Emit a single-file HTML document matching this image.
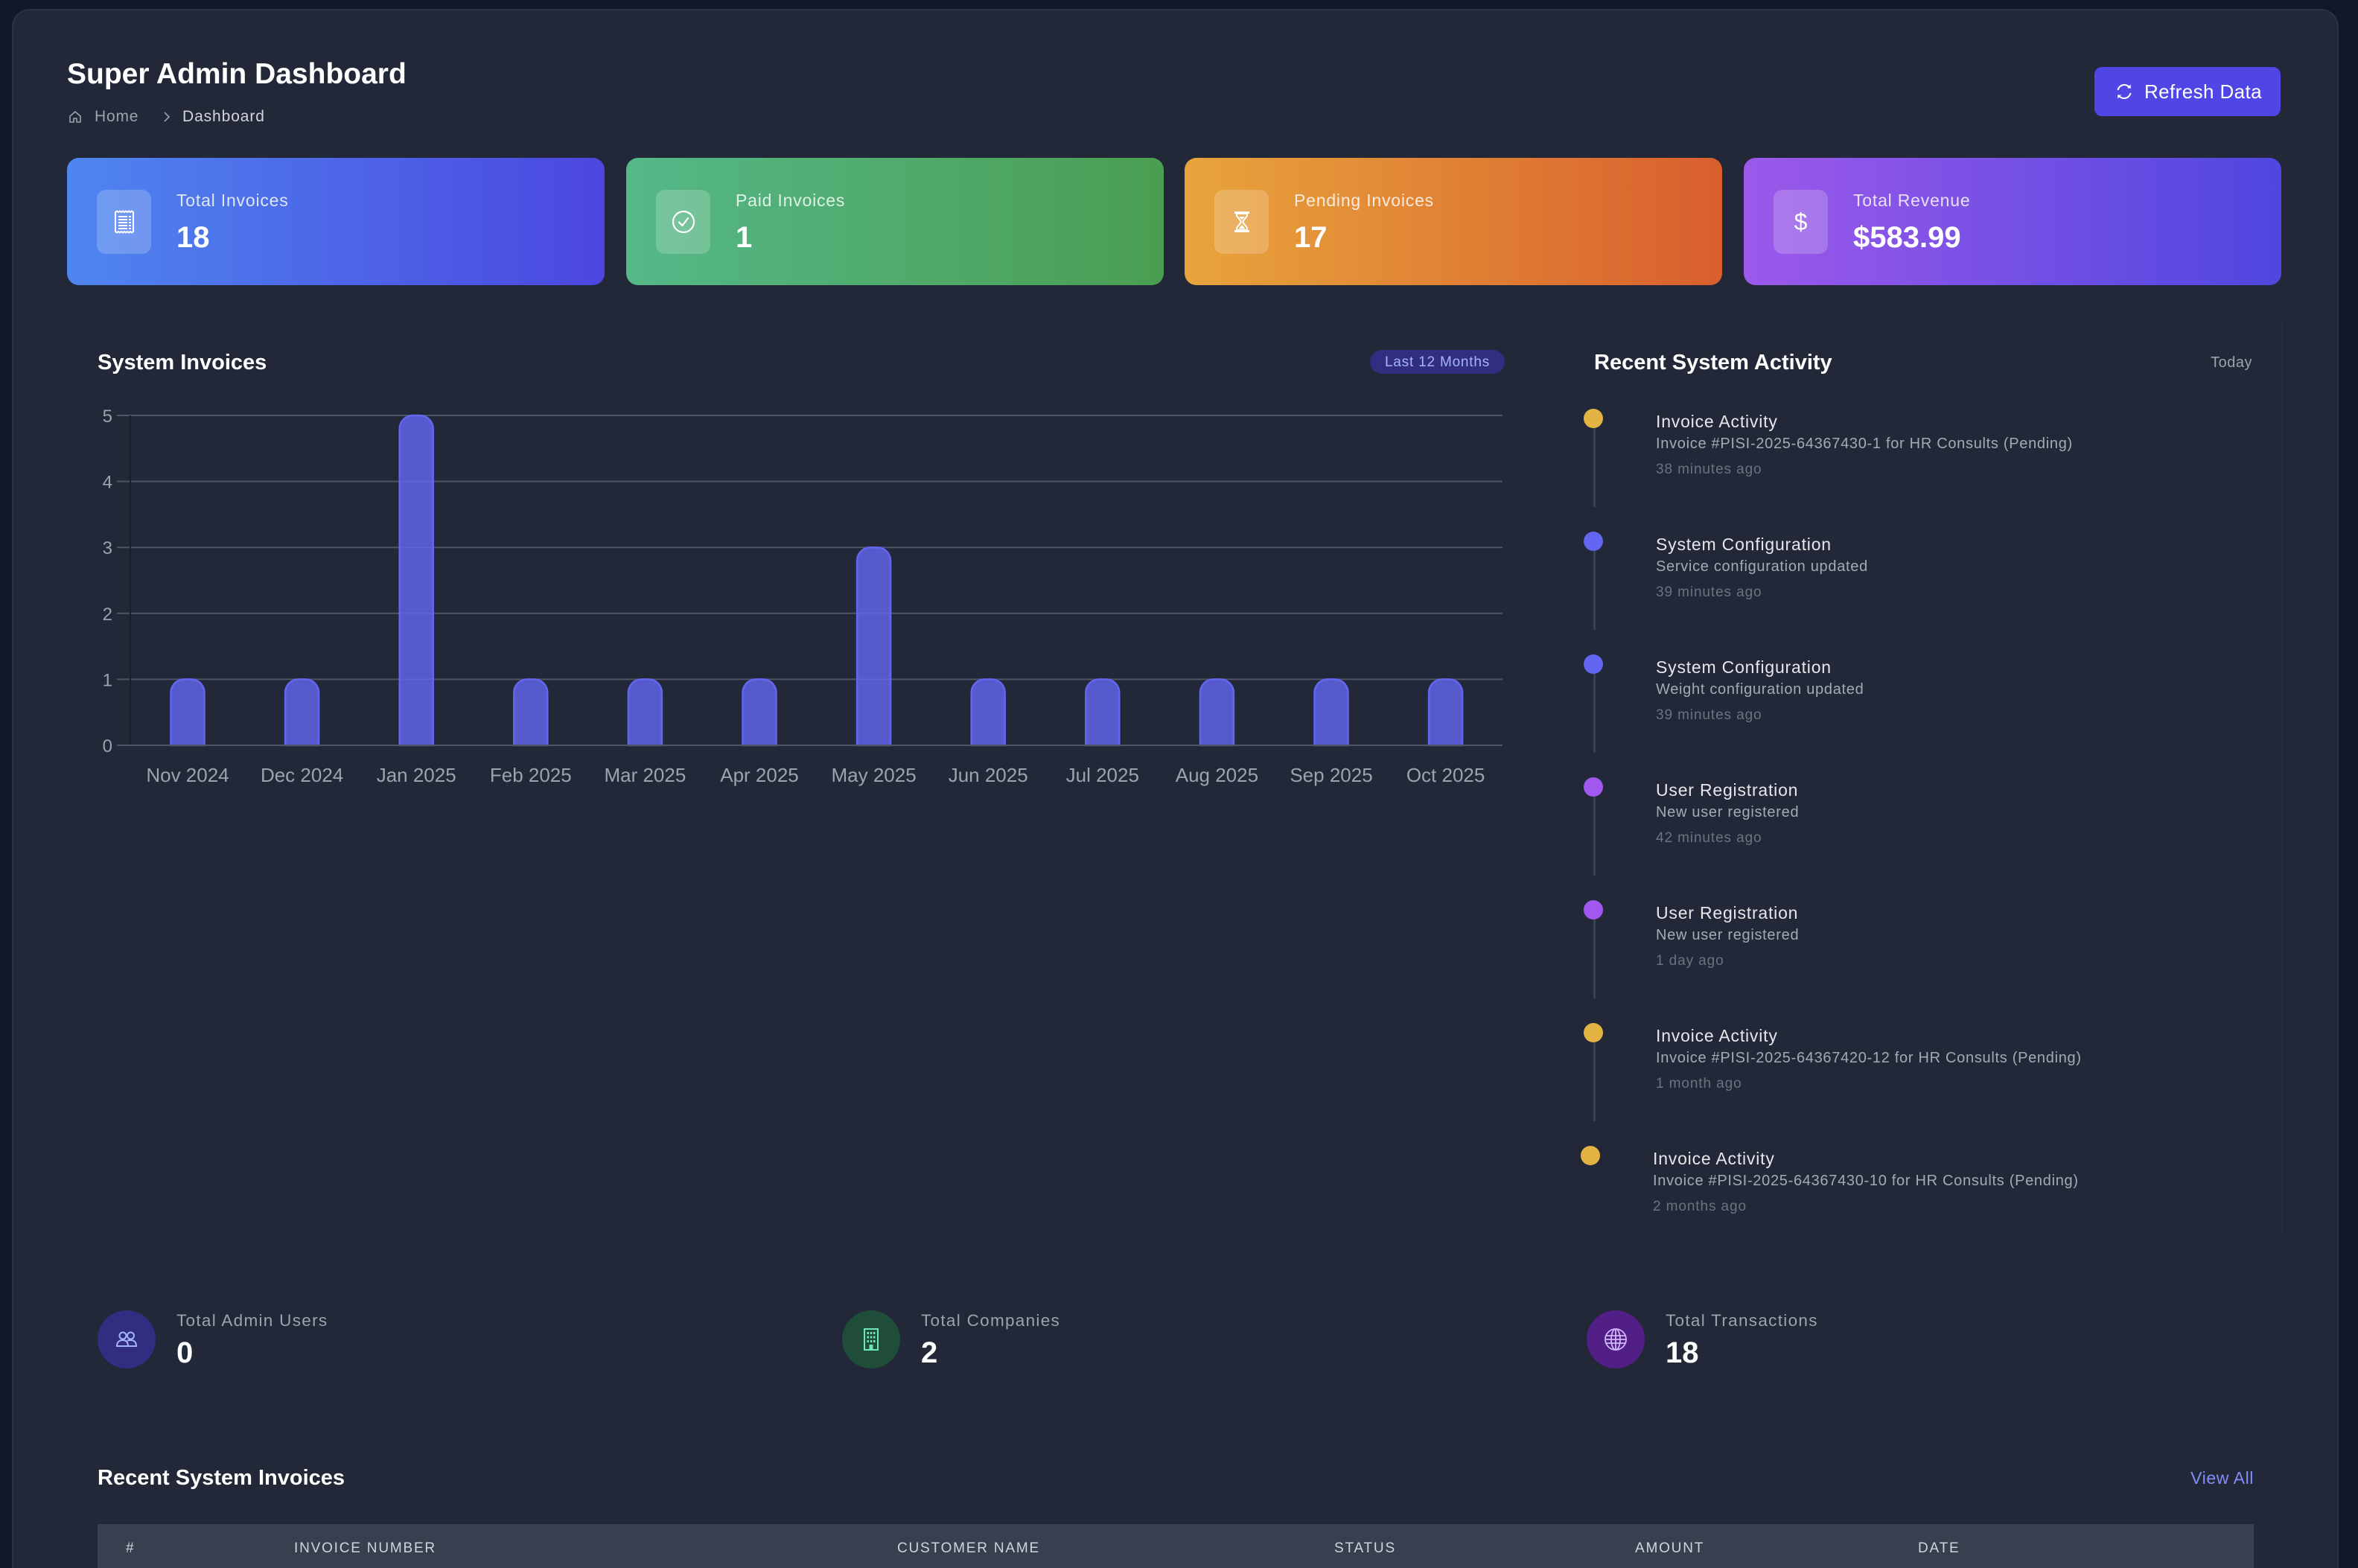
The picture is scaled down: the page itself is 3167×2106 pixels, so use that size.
<!DOCTYPE html>
<html>
<head>
<meta charset="utf-8">
<style>
  html,body{margin:0;padding:0;width:3167px;height:2106px;overflow:hidden;background:#111827;}
  #wrap{position:relative;width:3167px;height:2106px;overflow:hidden;background:#111827;font-family:"Liberation Sans",Arial,sans-serif;}
  .panel{position:absolute;left:16px;top:12px;width:3121px;height:2092px;background:#222837;border:2px solid #2c3241;border-bottom:none;border-radius:24px 24px 0 0;}
  .t{position:absolute;white-space:nowrap;line-height:40px;}
  .card{position:absolute;top:212px;height:171px;width:722px;border-radius:16px;}
  .ibox{position:absolute;top:43px;left:40px;width:73px;height:86px;border-radius:12px;background:rgba(255,255,255,0.2);}
  .ibox svg{position:absolute;left:50%;top:50%;transform:translate(-50%,-50%);}
  .clab{position:absolute;left:147px;top:25px;line-height:64px;font-size:23px;letter-spacing:0.8px;color:rgba(255,255,255,0.82);white-space:nowrap;}
  .cval{position:absolute;left:147px;top:75px;line-height:64px;font-size:40px;font-weight:700;color:#fff;white-space:nowrap;}
  .box{position:absolute;border:1px solid rgba(255,255,255,0.025);border-radius:20px;}
  .dot{position:absolute;width:26px;height:26px;border-radius:50%;}
  .vl{position:absolute;width:3px;background:#374151;}
  .at{font-size:23px;color:#e5e7eb;letter-spacing:0.8px;}
  .ad{font-size:20px;color:#a4aab5;letter-spacing:0.7px;}
  .am{font-size:19px;color:#6b7280;letter-spacing:0.9px;}
  .circ{position:absolute;top:1760px;width:78px;height:78px;border-radius:50%;}
  .circ svg{position:absolute;left:50%;top:50%;transform:translate(-50%,-50%);}
  .sl{font-size:22.5px;color:#9ca3af;letter-spacing:1.3px;}
  .sv{font-size:40px;color:#fff;font-weight:700;}
  .th{font-size:19px;color:#d1d5db;letter-spacing:1.8px;}
</style>
</head>
<body>
<div id="wrap">
<div class="panel"></div>

<!-- Header -->
<div class="t" style="left:90px;top:80px;font-size:39px;font-weight:700;color:#fff;">Super Admin Dashboard</div>
<svg style="position:absolute;left:91px;top:147px" width="20" height="20" viewBox="0 0 20 20">
  <path d="M3 9 L10 3 L17 9 V17 H12 V12 H8 V17 H3 Z" fill="none" stroke="#9ca3af" stroke-width="1.6" stroke-linejoin="round"/>
</svg>
<div class="t" style="left:127px;top:137px;font-size:21px;color:#9ca3af;letter-spacing:0.8px;">Home</div>
<svg style="position:absolute;left:218px;top:149px" width="12" height="16" viewBox="0 0 12 16">
  <path d="M3 2 L9 8 L3 14" fill="none" stroke="#9ca3af" stroke-width="1.6"/>
</svg>
<div class="t" style="left:245px;top:137px;font-size:21px;color:#d1d5db;letter-spacing:0.9px;">Dashboard</div>

<div style="position:absolute;left:2813px;top:90px;width:250px;height:66px;border-radius:10px;background:#4f46e5;"></div>
<svg style="position:absolute;left:2840px;top:110px" width="26" height="26" viewBox="0 0 26 26">
  <path d="M4.5 11 A8.8 8.8 0 0 1 20.5 8" fill="none" stroke="#fff" stroke-width="2"/>
  <path d="M21.5 15 A8.8 8.8 0 0 1 5.5 18" fill="none" stroke="#fff" stroke-width="2"/>
  <path d="M17 8.5 L22 8.5 L21.5 3.5 Z" fill="#fff"/>
  <path d="M9 17.5 L4 17.5 L4.5 22.5 Z" fill="#fff"/>
</svg>
<div class="t" style="left:2880px;top:103px;font-size:26px;color:#fff;letter-spacing:0.4px;">Refresh Data</div>

<!-- Stat cards -->
<div class="card" style="left:90px;background:linear-gradient(90deg,#4e86ef,#4c47e0);">
  <div class="ibox">
    <svg width="30" height="32" viewBox="0 0 30 32">
      <path d="M3 3 l2 -1.5 l2 1.5 l2 -1.5 l2 1.5 l2 -1.5 l2 1.5 l2 -1.5 l2 1.5 l2 -1.5 l2 1.5 l2 -1.5 l2 1.5 V29 l-2 1.5 l-2 -1.5 l-2 1.5 l-2 -1.5 l-2 1.5 l-2 -1.5 l-2 1.5 l-2 -1.5 l-2 1.5 l-2 -1.5 l-2 1.5 l-2 -1.5 Z" fill="none" stroke="#fff" stroke-width="2"/>
      <path d="M7 9 H19 M7 13 H19 M7 17 H19 M7 21 H19 M7 25 H19" stroke="#fff" stroke-width="2"/>
      <path d="M21 9 H24 M21 13 H24 M21 17 H24 M21 21 H24 M21 25 H24" stroke="#fff" stroke-width="2"/>
    </svg>
  </div>
  <div class="clab">Total Invoices</div>
  <div class="cval">18</div>
</div>
<div class="card" style="left:841px;background:linear-gradient(90deg,#55b888,#4a9e51);">
  <div class="ibox">
    <svg width="34" height="34" viewBox="0 0 34 34">
      <circle cx="17" cy="17" r="14" fill="none" stroke="#fff" stroke-width="2.2"/>
      <path d="M11 17.5 L15.5 22 L23 12" fill="none" stroke="#fff" stroke-width="2.2" stroke-linecap="round" stroke-linejoin="round"/>
    </svg>
  </div>
  <div class="clab">Paid Invoices</div>
  <div class="cval">1</div>
</div>
<div class="card" style="left:1591px;background:linear-gradient(90deg,#e8a43c,#d95f2e);">
  <div class="ibox">
    <svg width="28" height="32" viewBox="0 0 28 32">
      <rect x="4" y="2" width="20" height="3" fill="#fff"/>
      <rect x="4" y="27" width="20" height="3" fill="#fff"/>
      <path d="M7 5 L21 5 L21 8 L15.5 15 L15.5 17 L21 24 L21 27 L7 27 L7 24 L12.5 17 L12.5 15 L7 8 Z" fill="none" stroke="#fff" stroke-width="2"/>
      <path d="M9.5 25.5 L14 20 L18.5 25.5 Z" fill="#fff"/>
      <path d="M10 9 L18 9 L14 13 Z" fill="#fff"/>
    </svg>
  </div>
  <div class="clab">Pending Invoices</div>
  <div class="cval">17</div>
</div>
<div class="card" style="left:2342px;background:linear-gradient(90deg,#9c59ea,#4f47df);">
  <div class="ibox">
    <div style="position:absolute;left:0;top:0;width:73px;height:86px;line-height:86px;text-align:center;color:#fff;font-size:32px;">$</div>
  </div>
  <div class="clab">Total Revenue</div>
  <div class="cval">$583.99</div>
</div>

<!-- Section boxes (faint) -->
<div class="box" style="left:90px;top:411px;width:1971px;height:1268px;"></div>
<div class="box" style="left:2101px;top:411px;width:962px;height:1268px;"></div>

<!-- Chart -->
<div class="t" style="left:131px;top:467px;font-size:29px;font-weight:700;color:#fff;">System Invoices</div>
<div style="position:absolute;left:1840px;top:470px;width:181px;height:32px;border-radius:16px;background:#312e81;"></div>
<div class="t" style="left:1840px;top:467px;width:181px;text-align:center;font-size:19px;color:#a5b4fc;letter-spacing:0.8px;">Last 12 Months</div>

<svg style="position:absolute;left:0;top:0" width="3167" height="1100" viewBox="0 0 3167 1100">
  <g stroke="#4f5565" stroke-width="2">
    <line x1="157" y1="558" x2="2018" y2="558"/>
    <line x1="157" y1="646.6" x2="2018" y2="646.6"/>
    <line x1="157" y1="735.2" x2="2018" y2="735.2"/>
    <line x1="157" y1="823.8" x2="2018" y2="823.8"/>
    <line x1="157" y1="912.4" x2="2018" y2="912.4"/>
  </g>
  <line x1="175" y1="558" x2="175" y2="1001" stroke="#1b1f2a" stroke-width="2"/>
  <g fill="rgba(99,102,241,0.8)" stroke="#6366f1" stroke-width="2.5">
    <path d="M229.5 1001V930.4A18 18 0 0 1 247.5 912.4H256.5A18 18 0 0 1 274.5 930.4V1001Z"/>
    <path d="M383.1 1001V930.4A18 18 0 0 1 401.1 912.4H410.1A18 18 0 0 1 428.1 930.4V1001Z"/>
    <path d="M536.7 1001V576A18 18 0 0 1 554.7 558H563.7A18 18 0 0 1 581.7 576V1001Z"/>
    <path d="M690.3 1001V930.4A18 18 0 0 1 708.3 912.4H717.3A18 18 0 0 1 735.3 930.4V1001Z"/>
    <path d="M843.9 1001V930.4A18 18 0 0 1 861.9 912.4H870.9A18 18 0 0 1 888.9 930.4V1001Z"/>
    <path d="M997.5 1001V930.4A18 18 0 0 1 1015.5 912.4H1024.5A18 18 0 0 1 1042.5 930.4V1001Z"/>
    <path d="M1151.1 1001V753.2A18 18 0 0 1 1169.1 735.2H1178.1A18 18 0 0 1 1196.1 753.2V1001Z"/>
    <path d="M1304.7 1001V930.4A18 18 0 0 1 1322.7 912.4H1331.7A18 18 0 0 1 1349.7 930.4V1001Z"/>
    <path d="M1458.3 1001V930.4A18 18 0 0 1 1476.3 912.4H1485.3A18 18 0 0 1 1503.3 930.4V1001Z"/>
    <path d="M1611.9 1001V930.4A18 18 0 0 1 1629.9 912.4H1638.9A18 18 0 0 1 1656.9 930.4V1001Z"/>
    <path d="M1765.5 1001V930.4A18 18 0 0 1 1783.5 912.4H1792.5A18 18 0 0 1 1810.5 930.4V1001Z"/>
    <path d="M1919.1 1001V930.4A18 18 0 0 1 1937.1 912.4H1946.1A18 18 0 0 1 1964.1 930.4V1001Z"/>
  </g>
  <line x1="157" y1="1001" x2="2018" y2="1001" stroke="#4f5565" stroke-width="2"/>
  <g font-family="Liberation Sans, Arial, sans-serif" font-size="24" fill="#9ca3af" text-anchor="end">
    <text x="151" y="567">5</text>
    <text x="151" y="655.6">4</text>
    <text x="151" y="744.2">3</text>
    <text x="151" y="832.8">2</text>
    <text x="151" y="921.4">1</text>
    <text x="151" y="1010">0</text>
  </g>
  <g font-family="Liberation Sans, Arial, sans-serif" font-size="26" fill="#9ca3af" text-anchor="middle">
    <text x="252" y="1050">Nov 2024</text>
    <text x="405.6" y="1050">Dec 2024</text>
    <text x="559.2" y="1050">Jan 2025</text>
    <text x="712.8" y="1050">Feb 2025</text>
    <text x="866.4" y="1050">Mar 2025</text>
    <text x="1020" y="1050">Apr 2025</text>
    <text x="1173.6" y="1050">May 2025</text>
    <text x="1327.2" y="1050">Jun 2025</text>
    <text x="1480.8" y="1050">Jul 2025</text>
    <text x="1634.4" y="1050">Aug 2025</text>
    <text x="1788" y="1050">Sep 2025</text>
    <text x="1941.6" y="1050">Oct 2025</text>
  </g>
</svg>

<!-- Activity -->
<div class="t" style="left:2141px;top:467px;font-size:29px;font-weight:700;color:#fff;">Recent System Activity</div>
<div class="t" style="right:142px;top:467px;font-size:20px;color:#9ca3af;letter-spacing:0.5px;">Today</div>

<div class="dot" style="left:2127px;top:549px;background:#e3b443;"></div>
<div class="vl" style="left:2140px;top:575px;height:106px;"></div>
<div class="t at" style="left:2224px;top:546px;">Invoice Activity</div>
<div class="t ad" style="left:2224px;top:576px;">Invoice #PISI-2025-64367430-1 for HR Consults (Pending)</div>
<div class="t am" style="left:2224px;top:611px;">38 minutes ago</div>

<div class="dot" style="left:2127px;top:714px;background:#6366f1;"></div>
<div class="vl" style="left:2140px;top:740px;height:106px;"></div>
<div class="t at" style="left:2224px;top:711px;">System Configuration</div>
<div class="t ad" style="left:2224px;top:741px;">Service configuration updated</div>
<div class="t am" style="left:2224px;top:776px;">39 minutes ago</div>

<div class="dot" style="left:2127px;top:879px;background:#6366f1;"></div>
<div class="vl" style="left:2140px;top:905px;height:106px;"></div>
<div class="t at" style="left:2224px;top:876px;">System Configuration</div>
<div class="t ad" style="left:2224px;top:906px;">Weight configuration updated</div>
<div class="t am" style="left:2224px;top:941px;">39 minutes ago</div>

<div class="dot" style="left:2127px;top:1044px;background:#a058f0;"></div>
<div class="vl" style="left:2140px;top:1070px;height:106px;"></div>
<div class="t at" style="left:2224px;top:1041px;">User Registration</div>
<div class="t ad" style="left:2224px;top:1071px;">New user registered</div>
<div class="t am" style="left:2224px;top:1106px;">42 minutes ago</div>

<div class="dot" style="left:2127px;top:1209px;background:#a058f0;"></div>
<div class="vl" style="left:2140px;top:1235px;height:106px;"></div>
<div class="t at" style="left:2224px;top:1206px;">User Registration</div>
<div class="t ad" style="left:2224px;top:1236px;">New user registered</div>
<div class="t am" style="left:2224px;top:1271px;">1 day ago</div>

<div class="dot" style="left:2127px;top:1374px;background:#e3b443;"></div>
<div class="vl" style="left:2140px;top:1400px;height:106px;"></div>
<div class="t at" style="left:2224px;top:1371px;">Invoice Activity</div>
<div class="t ad" style="left:2224px;top:1401px;">Invoice #PISI-2025-64367420-12 for HR Consults (Pending)</div>
<div class="t am" style="left:2224px;top:1436px;">1 month ago</div>

<div class="dot" style="left:2123px;top:1539px;background:#e3b443;"></div>
<div class="t at" style="left:2220px;top:1536px;">Invoice Activity</div>
<div class="t ad" style="left:2220px;top:1566px;">Invoice #PISI-2025-64367430-10 for HR Consults (Pending)</div>
<div class="t am" style="left:2220px;top:1601px;">2 months ago</div>

<!-- Bottom stats -->
<div class="circ" style="left:131px;background:#312e81;">
  <svg width="32" height="32" viewBox="0 0 32 32" fill="none" stroke="#a5b4fc" stroke-width="2">
    <circle cx="11" cy="11" r="4.5"/>
    <circle cx="21.5" cy="11" r="4.5"/>
    <path d="M3 25 C3 19 7 17 11 17 C15 17 18 19 18 25 Z"/>
    <path d="M17 17.5 C18.5 17 20 17 21.5 17 C25.5 17 29 19 29 25 H19"/>
  </svg>
</div>
<div class="t sl" style="left:237px;top:1754px;">Total Admin Users</div>
<div class="t sv" style="left:237px;top:1797px;">0</div>

<div class="circ" style="left:1131px;background:#1f4d3a;">
  <svg width="26" height="34" viewBox="0 0 26 34" fill="none" stroke="#6ee7b7" stroke-width="2">
    <rect x="4" y="3" width="18" height="28"/>
    <g fill="#6ee7b7" stroke="none">
      <rect x="7.5" y="7" width="2.5" height="3"/><rect x="11.8" y="7" width="2.5" height="3"/><rect x="16" y="7" width="2.5" height="3"/>
      <rect x="7.5" y="12.5" width="2.5" height="3"/><rect x="11.8" y="12.5" width="2.5" height="3"/><rect x="16" y="12.5" width="2.5" height="3"/>
      <rect x="7.5" y="18" width="2.5" height="3"/><rect x="11.8" y="18" width="2.5" height="3"/><rect x="16" y="18" width="2.5" height="3"/>
      <rect x="10.5" y="24" width="5" height="7"/>
    </g>
  </svg>
</div>
<div class="t sl" style="left:1237px;top:1754px;">Total Companies</div>
<div class="t sv" style="left:1237px;top:1797px;">2</div>

<div class="circ" style="left:2131px;background:#521f87;">
  <svg width="34" height="34" viewBox="0 0 34 34" fill="none" stroke="#d0b5fb" stroke-width="1.8">
    <circle cx="17" cy="17" r="14"/>
    <ellipse cx="17" cy="17" rx="6" ry="14"/>
    <line x1="17" y1="3" x2="17" y2="31"/>
    <line x1="4" y1="12" x2="30" y2="12"/>
    <line x1="3" y1="17" x2="31" y2="17"/>
    <line x1="4" y1="22" x2="30" y2="22"/>
  </svg>
</div>
<div class="t sl" style="left:2237px;top:1754px;">Total Transactions</div>
<div class="t sv" style="left:2237px;top:1797px;">18</div>

<!-- Recent invoices -->
<div class="t" style="left:131px;top:1965px;font-size:29px;font-weight:700;color:#fff;">Recent System Invoices</div>
<div class="t" style="right:140px;top:1965px;font-size:23px;color:#818cf8;letter-spacing:0.6px;">View All</div>

<div style="position:absolute;left:131px;top:2047px;width:2896px;height:59px;background:#383f4e;"></div>
<div class="t th" style="left:169px;top:2060px;">#</div>
<div class="t th" style="left:395px;top:2060px;">INVOICE NUMBER</div>
<div class="t th" style="left:1205px;top:2060px;">CUSTOMER NAME</div>
<div class="t th" style="left:1792px;top:2060px;">STATUS</div>
<div class="t th" style="left:2196px;top:2060px;">AMOUNT</div>
<div class="t th" style="left:2576px;top:2060px;">DATE</div>
</div>
</body>
</html>
